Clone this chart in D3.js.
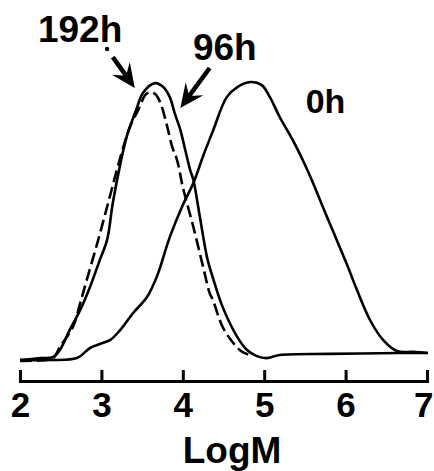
<!DOCTYPE html>
<html>
<head>
<meta charset="utf-8">
<script src="https://cdn.jsdelivr.net/npm/d3@7"></script>
<style>
html,body{margin:0;padding:0;background:#fff;}
svg text{font-family:"Liberation Sans",Arial,Helvetica,sans-serif;font-weight:bold;fill:#000;}
</style>
</head>
<body>
<svg id="chart" width="434" height="471"></svg>
<script>
// LogM values and relative signal (0–100)
const logM0h = [2.00,2.37,2.70,2.86,2.98,3.11,3.23,3.39,3.56,3.68,3.84,4.00,4.13,4.25,4.37,4.54,4.67,4.83,4.97,5.07,5.19,5.35,5.53,5.60,5.72,5.85,6.02,6.14,6.30,6.46,6.63,6.83,7.01];
const val0h  = [0.7,0.7,1.4,5.0,6.4,7.9,11.4,17.5,23.2,30.4,44.6,56.1,63.9,73.6,82.5,94.6,98.2,100,98.9,94.6,87.5,79.3,68.6,63.9,55.4,46.4,34.6,25.7,15.0,7.9,3.9,3.6,3.2];

const logM96h = [2.00,2.25,2.41,2.49,2.61,2.74,2.86,2.98,3.07,3.14,3.23,3.31,3.38,3.44,3.51,3.66,3.76,3.84,3.90,3.97,4.03,4.09,4.13,4.21,4.30,4.37,4.49,4.67,4.79,4.91,5.03,5.19,5.81,6.67,7.01];
const val96h  = [0.7,1.4,1.8,4.3,11.4,18.6,26.8,36.4,43.6,56.8,70.4,80.4,86.4,91.1,96.1,99.6,98.2,94.6,88.9,82.9,75.7,68.6,65.0,51.8,37.1,30.0,19.6,8.9,4.3,2.1,1.4,2.5,2.9,3.2,3.2];

const logM192h = [2.00,2.31,2.41,2.49,2.65,2.74,2.82,2.95,3.07,3.19,3.27,3.35,3.46,3.54,3.60,3.66,3.72,3.81,3.87,3.93,4.00,4.13,4.25,4.33,4.37,4.49,4.62,4.73,4.83];
const val192h  = [0.4,0.7,1.4,5.4,12.5,21.1,29.3,42.5,55.4,68.6,76.8,83.9,90.5,95.4,96.4,95.7,92.9,83.9,76.8,72.1,62.5,48.2,33.9,24.6,22.1,12.5,6.8,3.6,2.5];

const xTicks = [2,3,4,5,6,7];
const seriesLabels = ["0h","96h","192h"];

const svg = d3.select("#chart");
const x = d3.scaleLinear().domain([2,7]).range([20,427]);
const y = d3.scaleLinear().domain([0,100]).range([362,82]);

const line = d3.line().x(d=>x(d[0])).y(d=>y(d[1])).curve(d3.curveCatmullRom.alpha(0.5));

function draw(xs, ys, dash){
  svg.append("path")
    .datum(d3.zip(xs, ys))
    .attr("d", line)
    .attr("fill","none")
    .attr("stroke","#000")
    .attr("stroke-width",2.6)
    .attr("stroke-linejoin","round")
    .attr("stroke-dasharray", dash || null);
}
draw(logM0h, val0h);
draw(logM96h, val96h);
draw(logM192h, val192h, "12,5");

// axis
const axis = d3.axisBottom(x).tickValues(xTicks).tickFormat(d3.format("d"))
  .tickSize(-11).tickSizeOuter(-11).tickPadding(11);
const gx = svg.append("g").attr("transform","translate(0,381)").call(axis);
gx.selectAll("path,line").attr("stroke","#000").attr("stroke-width",3);
gx.selectAll("text").attr("font-size",35).style("font-family",'"Liberation Sans",Arial,sans-serif').style("font-weight","bold");
gx.selectAll("text").filter(d=>d===7).attr("text-anchor","end").attr("x",6);

svg.append("text").attr("x",232).attr("y",463).attr("text-anchor","middle")
  .attr("font-size",37).text("LogM");

// series labels (positions in data units)
const labelPos = [[5.51,88.9,34],[4.125,107.9,37],[2.22,114.3,37]];
seriesLabels.forEach((t,i)=>{
  svg.append("text").attr("x",x(labelPos[i][0])).attr("y",y(labelPos[i][1]))
    .attr("font-size",labelPos[i][2]).text(t);
});

// arrows
function arrow(x0,y0,x1,y1,dash){
  const X0=x(x0),Y0=y(y0),X1=x(x1),Y1=y(y1);
  const ang=Math.atan2(Y1-Y0,X1-X0);
  const L=24, W=11, N=15;
  const bx=X1-L*Math.cos(ang), by=Y1-L*Math.sin(ang);
  const nx=X1-N*Math.cos(ang), ny=Y1-N*Math.sin(ang);
  const px=-Math.sin(ang), py=Math.cos(ang);
  svg.append("line").attr("x1",X0).attr("y1",Y0).attr("x2",nx).attr("y2",ny)
    .attr("stroke","#000").attr("stroke-width",4.5).attr("stroke-dasharray",dash||null);
  svg.append("path").attr("d",`M${X1},${Y1}L${bx+W*px},${by+W*py}L${nx},${ny}L${bx-W*px},${by-W*py}Z`)
    .attr("fill","#000");
}
arrow(3.14,108.9,3.41,97.9);
arrow(4.33,105,3.97,90.7);
// small dot above the 192h arrow
svg.append("circle").attr("cx",x(3.07)).attr("cy",y(111.8)).attr("r",2.2).attr("fill","#000");
</script>
</body>
</html>
